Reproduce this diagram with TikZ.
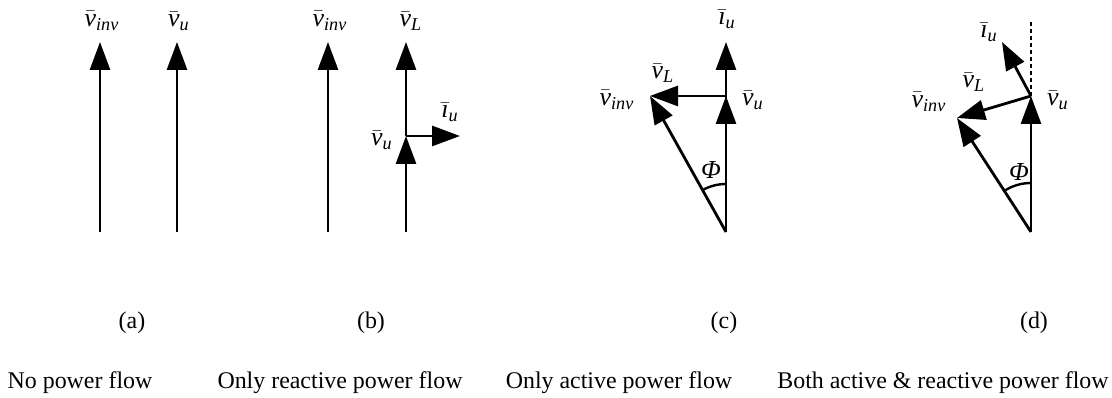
\documentclass[tikz,border=0pt]{standalone}
\usepackage{amsmath}
\usepackage{fontspec}
\setmainfont{Liberation Serif}
\usetikzlibrary{arrows.meta}

\tikzset{
    vec/.style={-{Triangle[length=14bp, width=10bp]}, line width=1.4bp},
    lbl/.style={inner sep=0pt, font=\fontsize{13}{15}\selectfont},
    captxt/.style={inner sep=0pt, font=\fontsize{12}{14}\selectfont}
}
\newcommand{\vb}[1]{$\bar{\textit{v}}_{\textit{#1}}$}
\newcommand{\ib}{$\bar{\textit{ı}}_{\textit{u}}$}

\begin{document}
\begin{tikzpicture}[x=0.5bp, y=0.5bp]
    \useasboundingbox (0,0) rectangle (1112,398);

    % --- (a) No power flow: both vectors in phase.
    \begin{scope}[shift={(100,166)}]
        \coordinate (ao1) at (0,0);
        \coordinate (ai) at (0,190);
        \coordinate (ao2) at (77,0);
        \coordinate (au) at (77,190);
        \draw[vec] (ao1) -- (ai);
        \draw[vec] (ao2) -- (au);
        \node[lbl] (ainv) at (2,211) {\vb{inv}};
        \node[lbl] (avu) at (79,211) {\vb{u}};
    \end{scope}

    % --- (b) Only reactive flow: v_L in phase, i_u at 90 deg.
    \begin{scope}[shift={(328,166)}]
        \coordinate (bo1) at (0,0);
        \coordinate (bi) at (0,190);
        \coordinate (bo2) at (78,0);
        \coordinate (bu) at (78,96);
        \coordinate (bl) at (78,190);
        \coordinate (bc) at (132,96);
        \draw[vec] (bo1) -- (bi);
        \draw[vec] (bo2) -- (bu);
        \draw[vec] (bu) -- (bl);
        \draw[vec] (bu) -- (bc);
        \node[lbl] (binv) at (2,211) {\vb{inv}};
        \node[lbl] (bvl) at (83,211) {\vb{L}};
        \node[lbl] (bvu) at (54,92) {\vb{u}};
        \node[lbl] (biu) at (122,120) {\ib};
    \end{scope}

    % --- (c) Only active flow: v_L at 90 deg to v_u.
    \begin{scope}[shift={(726,166)}]
        \coordinate (co) at (0,0);
        \coordinate (cu) at (0,136);
        \coordinate (cc) at (0,190);
        \coordinate (ci) at (-76,136);
        \draw[vec] (co) -- (cc);
        \draw[vec] (co) -- (cu);
        \draw[vec] (cu) -- (ci);
        \draw[vec] (co) -- (ci);
        \draw[line width=1.2bp] (0,48) arc[start angle=90, end angle=119.2, radius=48];
        \node[lbl] (ciu) at (1,213) {\ib};
        \node[lbl] (cvl) at (-63,159) {\vb{L}};
        \node[lbl] (cinv) at (-109,132) {\vb{inv}};
        \node[lbl] (cvu) at (27,132) {\vb{u}};
        \node[lbl] (cphi) at (-15,62) {\textit{Φ}};
    \end{scope}

    % --- (d) Both active and reactive flow.
    \begin{scope}[shift={(1031,166)}]
        \coordinate (do) at (0,0);
        \coordinate (du) at (0,136);
        \coordinate (dt) at (0,212);
        \coordinate (dc) at (-29,190);
        \coordinate (di) at (-74,114);
        \draw[line width=1.2bp, dash pattern=on 2pt off 1.5pt] (du) -- (dt);
        \draw[vec] (do) -- (du);
        \draw[vec] (du) -- (dc);
        \draw[vec] (du) -- (di);
        \draw[vec] (do) -- (di);
        \draw[line width=1.2bp] (0,49) arc[start angle=90, end angle=123, radius=49];
        \node[lbl] (diu) at (-42,200) {\ib};
        \node[lbl] (dvl) at (-57,150) {\vb{L}};
        \node[lbl] (dinv) at (-102,130) {\vb{inv}};
        \node[lbl] (dvu) at (27,132) {\vb{u}};
        \node[lbl] (dphi) at (-12,60) {\textit{Φ}};
    \end{scope}

    % --- captions
    \node[captxt] (capa) at (132,75) {(a)};
    \node[captxt] (capb) at (371,75) {(b)};
    \node[captxt] (capc) at (724,75) {(c)};
    \node[captxt] (capd) at (1034,75) {(d)};
    \node[captxt] (txta) at (80,15) {No power flow};
    \node[captxt] (txtb) at (340,15) {Only reactive power flow};
    \node[captxt] (txtc) at (619,15) {Only active power flow};
    \node[captxt] (txtd) at (943,15) {Both active \& reactive power flow};
\end{tikzpicture}
\end{document}
